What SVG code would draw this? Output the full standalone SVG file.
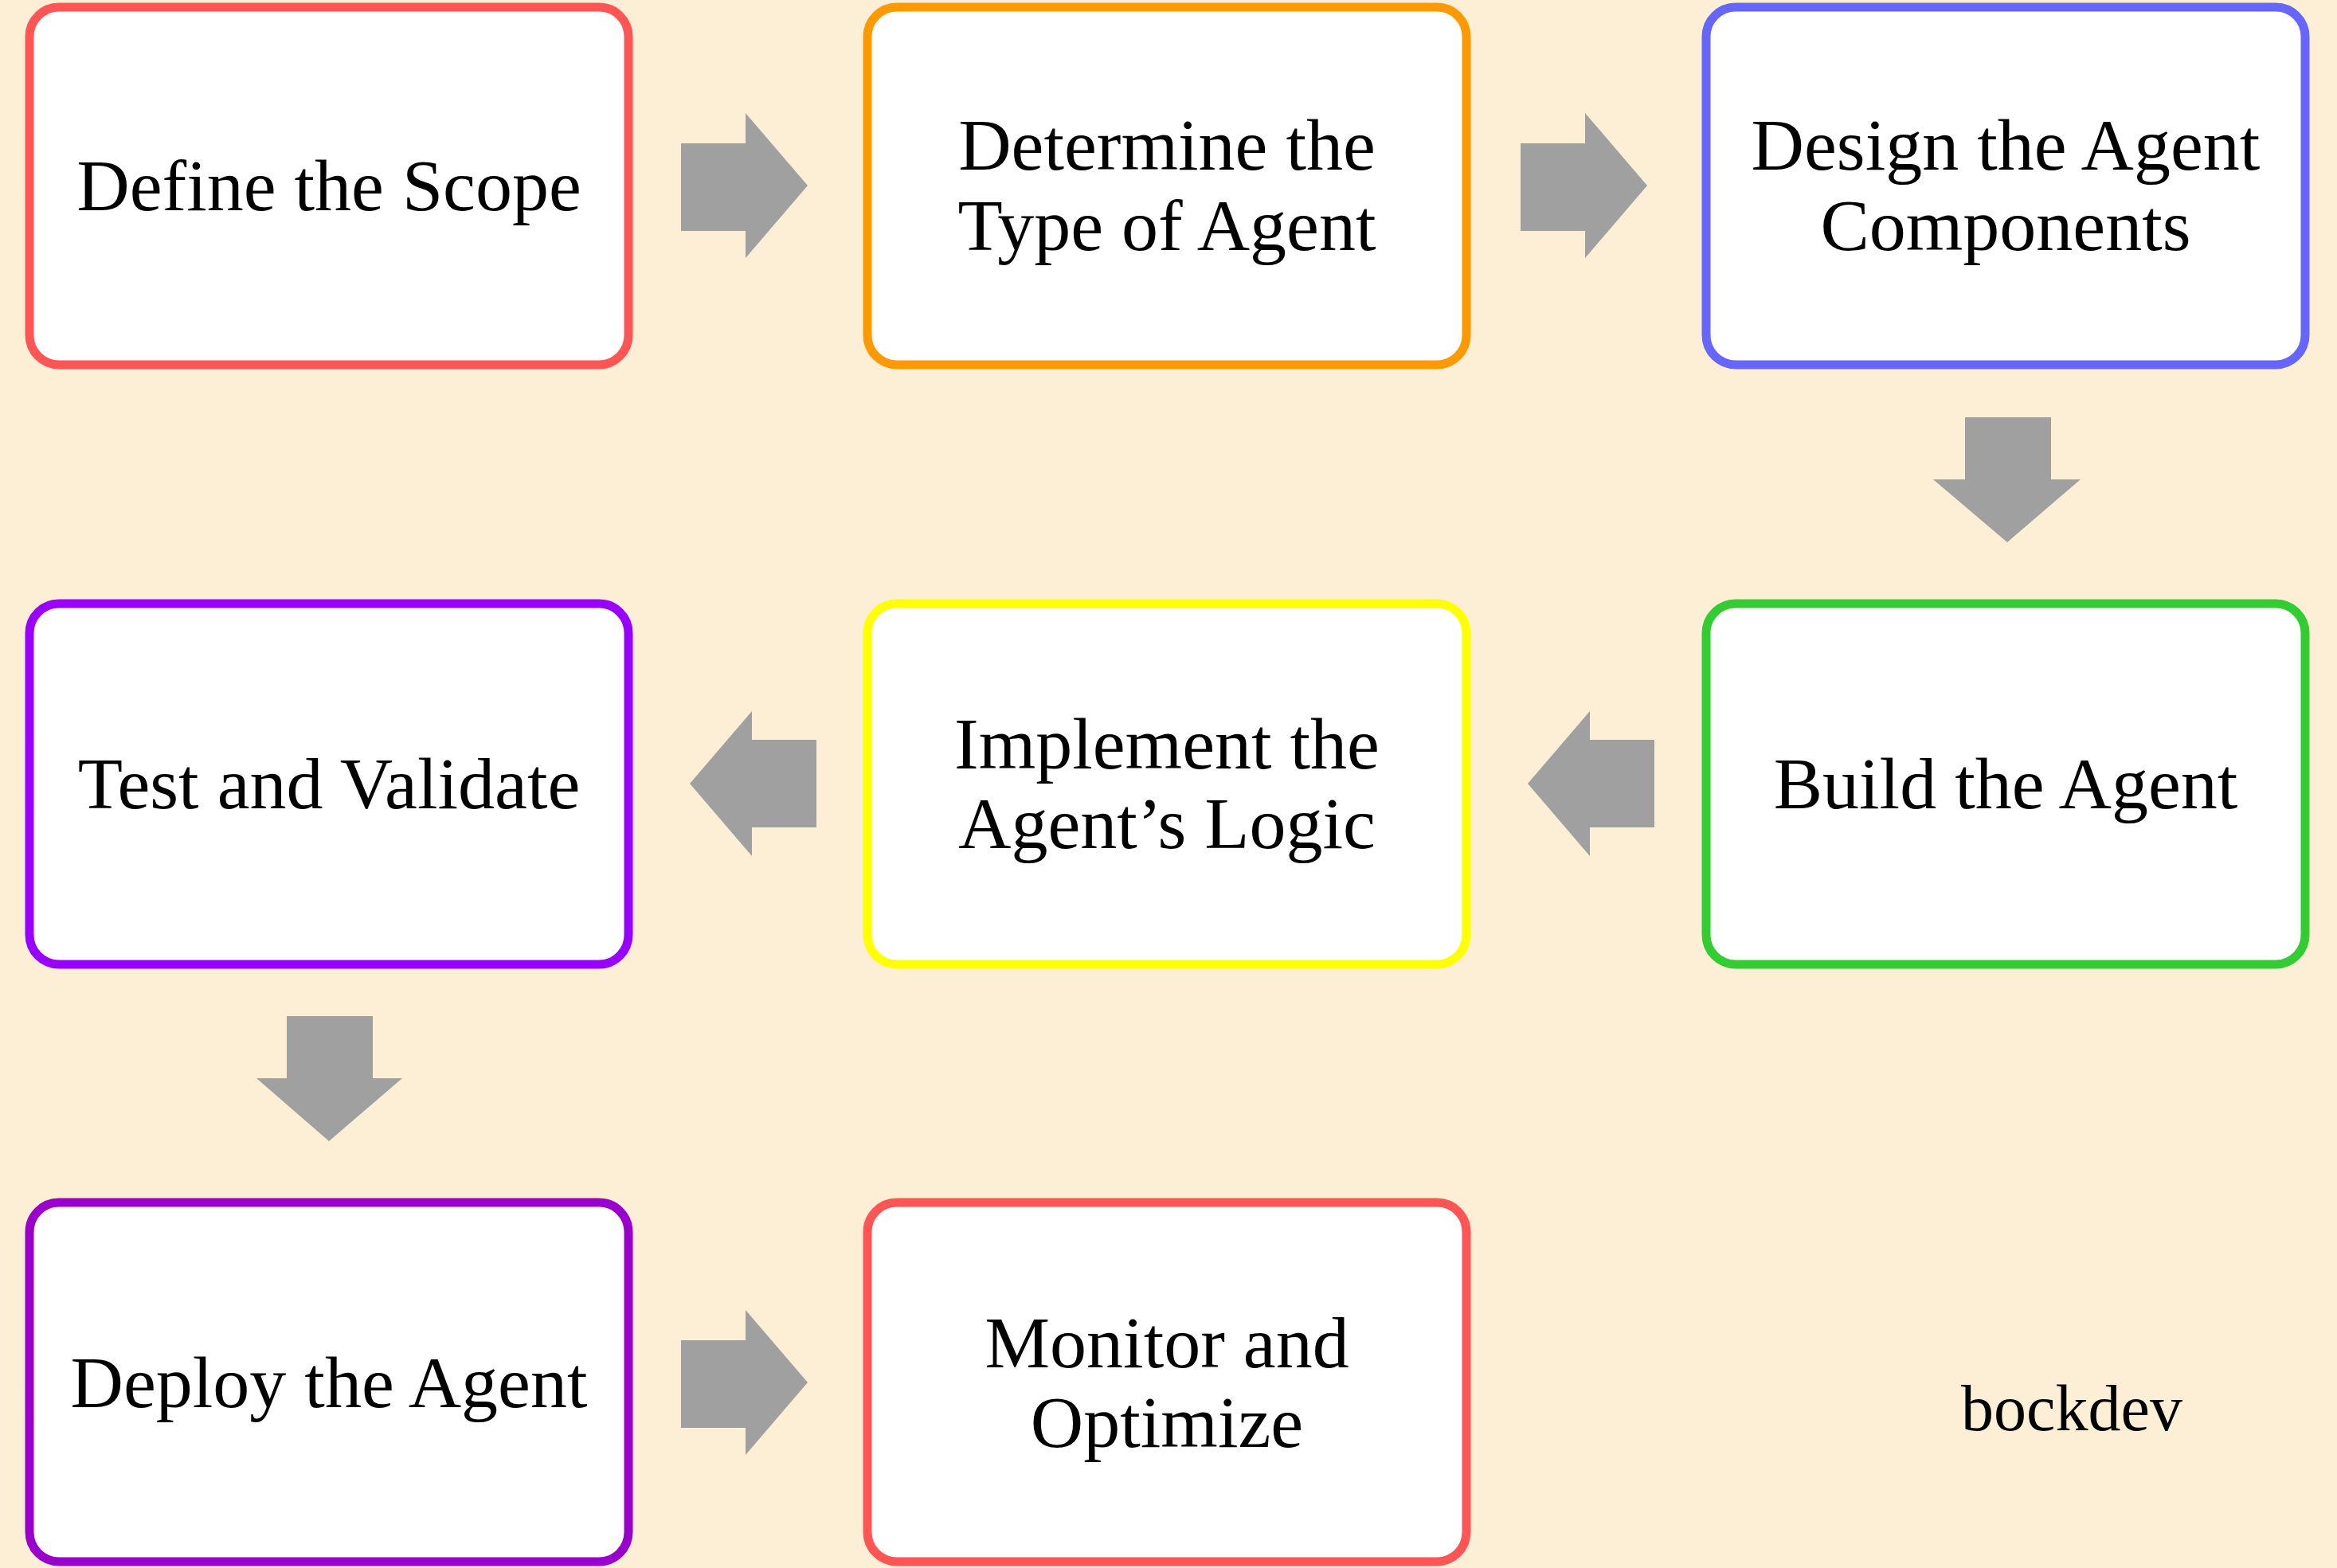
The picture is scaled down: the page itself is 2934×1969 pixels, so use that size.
<svg xmlns="http://www.w3.org/2000/svg" width="2934" height="1969" viewBox="0 0 2934 1969">
<style>
.b{fill:#fff;stroke-width:11}
.t{font-family:"Liberation Serif",serif;font-size:92px;text-anchor:middle;dominant-baseline:central;fill:#000}
.a{fill:#a0a0a0}
</style>
<rect width="2934" height="1969" fill="#fcefd6"/>
<g id="n1"><rect class="b" x="37" y="9" width="752" height="449" rx="37" stroke="#ff5555"/><text class="t" x="413" y="233">Define the Scope</text></g>
<g id="n2"><rect class="b" x="1089" y="9" width="752" height="449" rx="37" stroke="#ff9900"/><text class="t" x="1465" y="182">Determine the</text><text class="t" x="1465" y="283">Type of Agent</text></g>
<g id="n3"><rect class="b" x="2142" y="9" width="752" height="449" rx="37" stroke="#6666ff"/><text class="t" x="2518" y="182">Design the Agent</text><text class="t" x="2518" y="283">Components</text></g>
<g id="n4"><rect class="b" x="2142" y="758" width="752" height="453" rx="37" stroke="#33cc33"/><text class="t" x="2518" y="984">Build the Agent</text></g>
<g id="n5"><rect class="b" x="1089" y="758" width="752" height="453" rx="37" stroke="#ffff00"/><text class="t" x="1465" y="934">Implement the</text><text class="t" x="1465" y="1034">Agent’s Logic</text></g>
<g id="n6"><rect class="b" x="37" y="758" width="752" height="453" rx="37" stroke="#9900ff"/><text class="t" x="413" y="984">Test and Validate</text></g>
<g id="n7"><rect class="b" x="37" y="1510" width="752" height="451" rx="37" stroke="#9900cc"/><text class="t" x="413" y="1736">Deploy the Agent</text></g>
<g id="n8"><rect class="b" x="1089" y="1510" width="752" height="451" rx="37" stroke="#ff5555"/><text class="t" x="1465" y="1686">Monitor and</text><text class="t" x="1465" y="1786">Optimize</text></g>
<g id="connectors">
<polygon class="a" points="855,180 936,180 936,142 1014,233 936,324 936,290 855,290"/>
<polygon class="a" points="1909,180 1990,180 1990,142 2068,233 1990,324 1990,290 1909,290"/>
<polygon class="a" points="2467,524 2575,524 2575,602 2612,602 2520,681 2427,602 2467,602"/>
<polygon class="a" points="2077,929 1996,929 1996,893 1918,984 1996,1075 1996,1039 2077,1039"/>
<polygon class="a" points="1025,929 944,929 944,893 866,984 944,1075 944,1039 1025,1039"/>
<polygon class="a" points="360,1276 468,1276 468,1354 505,1354 413,1433 322,1354 360,1354"/>
<polygon class="a" points="855,1683 936,1683 936,1645 1014,1736 936,1827 936,1793 855,1793"/>
</g>
<text x="2601" y="1768" font-family="Liberation Serif,serif" font-size="82" text-anchor="middle" dominant-baseline="central">bockdev</text>
</svg>
